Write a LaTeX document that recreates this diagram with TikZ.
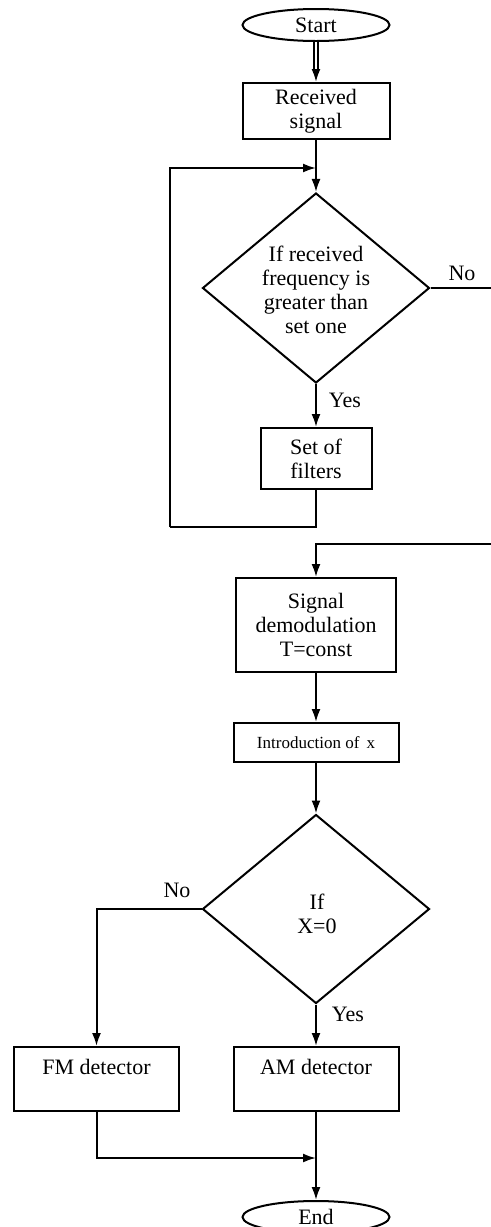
\documentclass[tikz,border=0pt]{standalone}
\usepackage{fontspec}
\setmainfont{Liberation Serif}
\usetikzlibrary{shapes.geometric,arrows.meta}
\tikzset{
  box/.style={draw, line width=1pt, align=center, inner sep=1pt},
  decision/.style={draw, diamond, line width=1pt, inner sep=0pt},
  terminal/.style={draw, ellipse, line width=1pt, inner sep=0pt,
    minimum width=73.5pt, minimum height=16pt},
  arw/.style={line width=1pt, -{Latex[length=6.5pt,width=4.5pt]}},
  ln/.style={line width=1pt}
}
\begin{document}
\begin{tikzpicture}[x=0.5pt, y=-0.5pt, font=\fontsize{11}{12}\selectfont]
      \useasboundingbox (0,0) rectangle (491,1227);
      \node[terminal] (start) at (316,25) {Start};
      \node[box, minimum width=73.5pt, minimum height=28pt] (recv) at (316,111) {Received\\signal};
      \node[decision, minimum width=113.5pt, minimum height=95pt] (dec1) at (316,288) {};
      \node[align=center] (dec1txt) at (316,290) {If received\\frequency is\\greater than\\set one};
      \node[box, minimum width=55.5pt, minimum height=30.5pt] (filt) at (316,458.5) {Set of\\filters};
      \node[box, minimum width=80pt, minimum height=47pt] (demod) at (316,625) {Signal\\demodulation\\T=const};
      \node[box, minimum width=82.5pt, minimum height=19.5pt, font=\fontsize{8.5}{10}\selectfont] (intro) at (316,742.5) {Introduction of\, x};
      \node[decision, minimum width=113.5pt, minimum height=94.5pt] (dec2) at (316,909) {};
      \node[align=center] (dec2txt) at (317,914) {If\\X=0};
      \node[box, minimum width=82.5pt, minimum height=32pt] (fm) at (96.5,1079) {FM detector\\\mbox{}};
      \node[box, minimum width=82.5pt, minimum height=32pt] (am) at (316,1079) {AM detector\\\mbox{}};
      \node[terminal] (end) at (316,1217) {End};
      \node (no1) at (462,273) {No};
      \node (yes1) at (345,400) {Yes};
      \node (no2) at (177,890) {No};
      \node (yes2) at (348,1014) {Yes};
      \coordinate (loopbot) at (170,527);
      \coordinate (loopin) at (316,168);
      \coordinate (out1) at (491,288);
      \coordinate (in1) at (491,544);
      \coordinate (merge) at (316,1158);
      \draw[double, double distance=1.4pt, line width=0.6pt, shorten >=6pt] (start) -- (recv);
      \draw[arw] ([yshift=6.5pt]recv.north) -- (recv.north);
      \foreach \a/\b in {recv/dec1, dec1/filt, demod/intro, intro/dec2, dec2/am, am/end} {
        \draw[arw] (\a) -- (\b);
      }
      \draw[ln] (filt.south) |- (loopbot);
      \draw[arw] (loopbot) |- (loopin);
      \draw[ln] (dec1.east) -- (out1);
      \draw[arw] (in1) -| (demod.north);
      \draw[arw] (dec2.west) -| (fm.north);
      \draw[arw] (fm.south) |- (merge);
    \end{tikzpicture}
\end{document}
